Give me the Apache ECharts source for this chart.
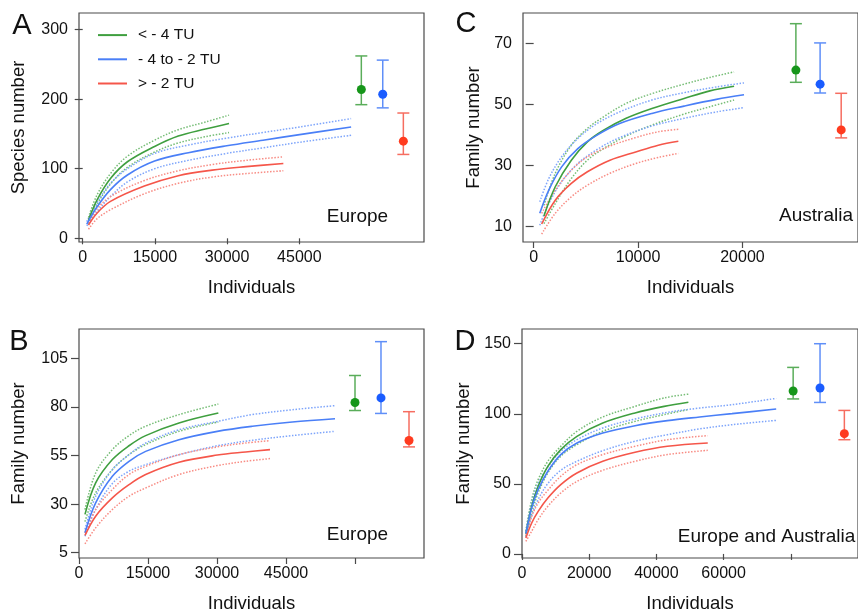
<!DOCTYPE html>
<html><head><meta charset="utf-8">
<script src="https://cdn.jsdelivr.net/npm/echarts@6/dist/echarts.min.js"></script>
<style>html,body{margin:0;padding:0;background:#fff}#c{width:858px;height:616px}</style>
</head><body><div id="c"></div>
<script>
const groupNames = ['< - 4 TU', '- 4 to - 2 TU', '> - 2 TU'];

// ---------- Panel A (Species number, Europe) ----------
const A_x_green = [1200, 2960, 5770, 9290, 14930, 19850, 25480, 30400];
const A_green    = [26, 55, 86, 110, 132, 147, 157, 165];
const A_green_hi = [30, 62, 93, 118, 141, 156, 167, 177];
const A_green_lo = [21, 48, 78, 102, 124, 137, 146, 152];
const A_x_blue = [845, 2960, 5770, 9290, 14930, 21960, 29920, 37450, 45060, 55760];
const A_blue    = [20.5, 45, 70, 91, 111, 123, 133, 141, 149, 160];
const A_blue_hi = [24, 51, 79, 100, 122, 134, 144, 152, 160, 172];
const A_blue_lo = [18, 38, 60, 81, 100, 112, 122, 130, 138, 148];
const A_x_red = [1200, 2960, 5770, 12810, 19850, 26890, 33930, 41680];
const A_red    = [19, 36, 53, 75, 90, 98, 103, 107.5];
const A_red_hi = [22, 42, 60, 83, 97, 106, 112, 117];
const A_red_lo = [13, 28, 41, 64, 79, 88, 93, 97];
const A_err_x    = [57880, 62330, 66610];
const A_err_mean = [213.8, 207, 139.6];
const A_err_lo   = [192, 187.4, 120.5];
const A_err_hi   = [262, 256, 180];

// ---------- Panel B (Family number, Europe) ----------
const B_x_green = [1300, 3620, 7250, 10870, 14490, 21740, 30290];
const B_green    = [24.7, 40.9, 52.9, 60, 65.2, 71.7, 76.8];
const B_green_hi = [27.2, 46, 58, 65.2, 70, 76, 81.4];
const B_green_lo = [21, 35.8, 47.7, 55.4, 60.6, 67.4, 72.2];
const B_x_blue = [1300, 3620, 7250, 10870, 14490, 21740, 30070, 37680, 46370, 55650];
const B_blue    = [15.3, 30.6, 44.3, 52, 57.1, 63.1, 67.4, 70, 72.2, 73.9];
const B_blue_hi = [17, 34, 47.7, 55.4, 61.4, 68.2, 72.5, 76, 78.5, 80.6];
const B_blue_lo = [13.5, 27.2, 40.6, 46.9, 50.3, 55.4, 60, 62.8, 65.2, 67.4];
const B_x_red = [1300, 3620, 7250, 10870, 14490, 21740, 30070, 36230, 41520];
const B_red    = [13.9, 23.8, 33.2, 40, 45.2, 51.5, 55.2, 56.8, 58];
const B_red_hi = [15.3, 27.2, 37.5, 45.2, 49.4, 55.4, 59.4, 61.4, 62.6];
const B_red_lo = [9.6, 17.8, 27.2, 34, 38.3, 45.2, 49.8, 52, 53.4];
const B_err_x    = [60000, 65650, 71740];
const B_err_mean = [82.2, 84.6, 62.7];
const B_err_lo   = [78.1, 76.6, 59.4];
const B_err_hi   = [96.1, 113.5, 77.5];

// ---------- Panel C (Family number, Australia) ----------
const C_x_green = [988, 2070, 3610, 5150, 6700, 8860, 11330, 14410, 16880, 19200];
const C_green    = [13.5, 23.1, 31.8, 37.8, 41.6, 45.5, 48.7, 52, 54.5, 56];
const C_green_hi = [17, 27.5, 36.7, 42.2, 46, 50.4, 53.6, 56.7, 58.9, 60.7];
const C_green_lo = [11, 17.6, 25.8, 31.8, 35.6, 39.7, 43.3, 46.9, 49.3, 51.5];
const C_x_blue = [586, 1450, 2680, 4230, 6080, 8240, 11330, 14410, 17500, 20150];
const C_blue    = [14.4, 22, 29.6, 35.6, 40, 43.8, 47.1, 49.5, 51.7, 53.2];
const C_blue_hi = [18.2, 25.8, 32.9, 38.9, 43.8, 47.6, 51.5, 53.9, 55.8, 57.1];
const C_blue_lo = [10.5, 17.6, 24.7, 30.7, 35.3, 39.2, 43, 45.5, 47.6, 49];
const C_x_red = [770, 2070, 3610, 5150, 7310, 9780, 11940, 13860];
const C_red    = [10.9, 18.7, 24.2, 28, 31.8, 34.5, 36.7, 38];
const C_red_hi = [14.4, 22, 28.5, 32.9, 36.4, 39.2, 41.1, 41.9];
const C_red_lo = [7.6, 14.4, 19.8, 23.6, 27.5, 30.7, 32.7, 34];
const C_err_x    = [25120, 27440, 29460];
const C_err_mean = [61.3, 56.7, 41.7];
const C_err_lo   = [57.3, 53.8, 39.1];
const C_err_hi   = [76.5, 70.2, 53.7];

// ---------- Panel D (Family number, Europe and Australia) ----------
const D_x_green = [1150, 2880, 4810, 7690, 11540, 16350, 24040, 33650, 42310, 49520];
const D_green    = [14.5, 34, 48.3, 62.5, 74.4, 83.9, 93.4, 100.6, 105.3, 108.2];
const D_green_hi = [16.2, 38.8, 53, 66.1, 76.8, 87.5, 97.7, 105.3, 111.3, 114];
const D_green_lo = [12.6, 29.2, 43.5, 57.8, 69.7, 78, 87.5, 94.6, 99.4, 103];
const D_x_blue = [1150, 2880, 4810, 7690, 11540, 16350, 24040, 33650, 43270, 52880, 62500, 75650];
const D_blue    = [14.5, 32.8, 45.9, 59, 70.9, 79.2, 86.3, 91.5, 95.1, 97.7, 100.1, 103.4];
const D_blue_hi = [16.2, 36.4, 50.2, 62, 73.2, 81.5, 89.9, 96.3, 101, 104.1, 106.5, 111];
const D_blue_lo = [12.1, 26.9, 38.8, 50.2, 59.7, 66.1, 73.7, 80.4, 85.1, 89.2, 92.2, 95.3];
const D_x_red = [1150, 2880, 4810, 7690, 11540, 16350, 24040, 33650, 43270, 55290];
const D_red    = [11.4, 22.1, 30.4, 39.9, 49.5, 57.8, 66.1, 72.5, 76.8, 79.2];
const D_red_hi = [13.8, 26.9, 36.4, 45.4, 55.4, 63.7, 70.9, 76.8, 81.5, 84.4];
const D_red_lo = [9, 16.2, 24.5, 34, 43.5, 51.8, 59.7, 66.1, 70.9, 73.9];
const D_err_x    = [80700, 88700, 95940];
const D_err_mean = [116.3, 118.4, 85.8];
const D_err_lo   = [110.6, 108.1, 81.5];
const D_err_hi   = [133.1, 150, 102.4];

// tick labels
const A_xticks = [0, 15000, 30000, 45000];
const A_yticks = [0, 100, 200, 300];
const B_xticks = [0, 15000, 30000, 45000];
const B_yticks = [5, 30, 55, 80, 105];
const C_xticks = [0, 10000, 20000];
const C_yticks = [10, 30, 50, 70];
const D_xticks = [0, 20000, 40000, 60000];
const D_yticks = [0, 50, 100, 150];

// ---------- styling ----------
const FONT = '"Liberation Sans", Arial, Helvetica, sans-serif';
const solidColors = ['#3f9f3f', '#4a7ff7', '#f5564a'];
const dotColors = ['#76bd76', '#7ea5fb', '#f88c84'];
const errColors = ['#5aad5a', '#5f8ff8', '#f66d60'];
const markColors = ['#16961a', '#1a5cff', '#ff3b1f'];
const FRAME = '#4a4a4a';

function zip(xs, ys) { return xs.map((x, i) => [x, ys[i]]); }

const series = [];
function addCurves(gi, g, xs, mid, hi, lo) {
  series.push({
    type: 'line', name: groupNames[g], xAxisIndex: gi, yAxisIndex: gi,
    data: zip(xs, mid), showSymbol: false, symbol: 'none', smooth: 0.35,
    lineStyle: { color: solidColors[g], width: 1.6 }, itemStyle: { color: solidColors[g] }, z: 3
  });
  [hi, lo].forEach(arr => series.push({
    type: 'line', name: groupNames[g], xAxisIndex: gi, yAxisIndex: gi,
    data: zip(xs, arr), showSymbol: false, symbol: 'none', smooth: 0.35,
    lineStyle: { color: dotColors[g], width: 1.5, type: [1.5, 1.6] }, itemStyle: { color: solidColors[g] }, z: 2
  }));
}
function addErr(gi, ex, em, elo, ehi) {
  for (let g = 0; g < 3; g++) {
    series.push({
      type: 'custom', name: groupNames[g], xAxisIndex: gi, yAxisIndex: gi,
      itemStyle: { color: solidColors[g] },
      data: [[ex[g], em[g], elo[g], ehi[g]]],
      clip: false, z: 4,
      renderItem: function (params, api) {
        const x = api.value(0);
        const top = api.coord([x, api.value(3)]);
        const bot = api.coord([x, api.value(2)]);
        const mid = api.coord([x, api.value(1)]);
        const ls = { stroke: errColors[g], lineWidth: 1.5 };
        return {
          type: 'group', children: [
            { type: 'line', shape: { x1: top[0], y1: top[1], x2: bot[0], y2: bot[1] }, style: ls },
            { type: 'line', shape: { x1: top[0] - 6, y1: top[1], x2: top[0] + 6, y2: top[1] }, style: ls },
            { type: 'line', shape: { x1: bot[0] - 6, y1: bot[1], x2: bot[0] + 6, y2: bot[1] }, style: ls },
            { type: 'circle', shape: { cx: mid[0], cy: mid[1], r: 4.5 }, style: { fill: markColors[g] } }
          ]
        };
      }
    });
  }
}

// grids: 0=A, 1=C, 2=B, 3=D
addCurves(0, 0, A_x_green, A_green, A_green_hi, A_green_lo);
addCurves(0, 1, A_x_blue, A_blue, A_blue_hi, A_blue_lo);
addCurves(0, 2, A_x_red, A_red, A_red_hi, A_red_lo);
addErr(0, A_err_x, A_err_mean, A_err_lo, A_err_hi);
addCurves(1, 0, C_x_green, C_green, C_green_hi, C_green_lo);
addCurves(1, 1, C_x_blue, C_blue, C_blue_hi, C_blue_lo);
addCurves(1, 2, C_x_red, C_red, C_red_hi, C_red_lo);
addErr(1, C_err_x, C_err_mean, C_err_lo, C_err_hi);
addCurves(2, 0, B_x_green, B_green, B_green_hi, B_green_lo);
addCurves(2, 1, B_x_blue, B_blue, B_blue_hi, B_blue_lo);
addCurves(2, 2, B_x_red, B_red, B_red_hi, B_red_lo);
addErr(2, B_err_x, B_err_mean, B_err_lo, B_err_hi);
addCurves(3, 0, D_x_green, D_green, D_green_hi, D_green_lo);
addCurves(3, 1, D_x_blue, D_blue, D_blue_hi, D_blue_lo);
addCurves(3, 2, D_x_red, D_red, D_red_hi, D_red_lo);
addErr(3, D_err_x, D_err_mean, D_err_lo, D_err_hi);

function grid(left, top) {
  return { left: left, top: top, width: 345, height: 229, show: true, borderColor: FRAME, borderWidth: 1.2, backgroundColor: 'transparent', containLabel: false };
}
function xAx(gi, min, max, labels, ticks) {
  return {
    type: 'value', gridIndex: gi, min: min, max: max,
    axisLine: { show: false },
    axisTick: { show: true, length: 6, customValues: ticks, lineStyle: { color: FRAME, width: 1.2 } },
    axisLabel: { customValues: labels, margin: 8, fontSize: 16, color: '#111', fontFamily: FONT, formatter: v => String(v) },
    splitLine: { show: false },
    name: 'Individuals', nameLocation: 'middle', nameGap: 36,
    nameTextStyle: { fontSize: 18.5, color: '#111', fontFamily: FONT }
  };
}
function yAx(gi, min, max, labels, name, gap) {
  return {
    type: 'value', gridIndex: gi, min: min, max: max,
    axisLine: { show: false },
    axisTick: { show: true, length: 8, customValues: labels, lineStyle: { color: FRAME, width: 1.2 } },
    axisLabel: { customValues: labels, margin: 11, fontSize: 16, color: '#111', fontFamily: FONT, formatter: v => String(v) },
    splitLine: { show: false },
    name: name, nameLocation: 'middle', nameGap: gap,
    nameTextStyle: { fontSize: 18.5, color: '#111', fontFamily: FONT }
  };
}

const txt = (x, y, s, size) => ({
  type: 'text', x: x, y: y,
  style: { text: s, fontSize: size, fontFamily: FONT, fill: '#111', align: 'center', verticalAlign: 'middle' }
});

const option = {
  animation: false,
  backgroundColor: '#fff',
  grid: [grid(79, 13), grid(523, 13), grid(79, 329), grid(522, 329)],
  xAxis: [
    xAx(0, -770, 70900, A_xticks, A_xticks),
    xAx(1, -1020, 31070, C_xticks, C_xticks),
    xAx(2, 0, 75000, B_xticks, B_xticks.concat([60000])),
    xAx(3, 0, 100000, D_xticks, D_xticks.concat([80000]))
  ],
  yAxis: [
    yAx(0, -5.3, 323.7, A_yticks, 'Species number', 51),
    yAx(1, 5, 80, C_yticks, 'Family number', 40),
    yAx(2, 2.3, 120, B_yticks, 'Family number', 51),
    yAx(3, -2.9, 160.5, D_yticks, 'Family number', 49)
  ],
  legend: {
    data: groupNames, orient: 'vertical', left: 98, top: 27, padding: 0,
    itemWidth: 29, itemHeight: 2, itemGap: 8, icon: 'rect',
    textStyle: { fontSize: 15.5, color: '#111', fontFamily: FONT, lineHeight: 16.2, padding: [0, 0, 0, 6] }
  },
  graphic: [
    txt(22, 26, 'A', 29), txt(466, 24, 'C', 29), txt(19, 342, 'B', 29), txt(465, 342, 'D', 29),
    txt(357.5, 217, 'Europe', 19), txt(816, 216, 'Australia', 19),
    txt(357.5, 535, 'Europe', 19), txt(766.5, 537, 'Europe and Australia', 19)
  ],
  series: series
};
const chart = echarts.init(document.getElementById('c'), null, { renderer: 'canvas' });
chart.setOption(option);
</script>
</body></html>
